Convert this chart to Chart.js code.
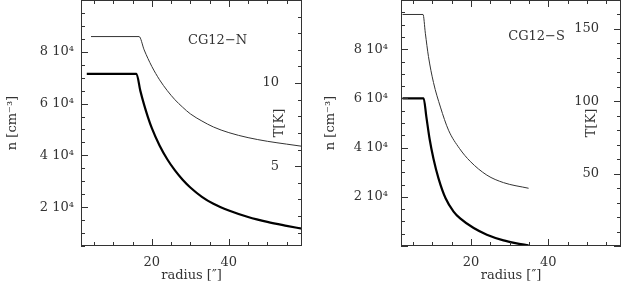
<!DOCTYPE html>
<html>
<head>
<meta charset="utf-8">
<script src="https://cdn.jsdelivr.net/npm/chart.js@4.4.0/dist/chart.umd.min.js"></script>
<style>
  body { margin: 0; background: #fff; }
  #wrap { position: relative; width: 623px; height: 283px; }
  canvas { position: absolute; top: 0; }
  #north { left: 0; }
  #south { left: 311px; }
</style>
</head>
<body>
<div id="wrap">
  <canvas id="north" width="311" height="283"></canvas>
  <canvas id="south" width="312" height="283"></canvas>
</div>
<script>
// Data

// CG12-N : density (thick) and temperature (thin)
const radiusN = [3.1, 16, 17, 18, 19, 20, 22, 24, 26, 28, 30, 33, 36, 40, 45, 50, 55, 59];
const densityN = [71500, 71500, 65000, 59500, 54700, 50500, 43800, 38500, 34200, 30600, 27600, 24000, 21300, 18700, 16200, 14300, 12800, 11700];
const radiusTN = [4.2, 16.7, 18, 20, 22, 24, 26, 28, 30, 33, 36, 40, 45, 50, 55, 59];
const tempN = [12.8, 12.8, 12.0, 11.0, 10.2, 9.55, 9.0, 8.55, 8.15, 7.72, 7.36, 7.02, 6.72, 6.5, 6.33, 6.2];

// CG12-S
const radiusS = [2.3, 7.75, 8.45, 9.3, 10.3, 11.6, 13.4, 15.5, 17.2, 20.7, 24.1, 28.4, 31.5, 34.9];
const densityS = [60000, 60000, 52600, 43500, 35500, 27500, 19500, 14000, 11200, 7300, 4600, 2300, 1200, 300];
const radiusTS = [2.3, 7.6, 8.2, 9.0, 10.3, 12.1, 14.2, 17, 19.8, 24.1, 28.4, 34.9];
const tempS = [160, 160, 147, 131, 113, 96, 80, 67.5, 58.5, 49, 43.8, 39.9];

// tick labels
const radiusLabels = [20, 40];
const densityLabels = [20000, 40000, 60000, 80000];
const tempLabelsN = [5, 10];
const tempLabelsS = [50, 100, 150];

const INK = "#333";
const FAMILY = "'DejaVu Serif', 'Liberation Serif', serif";

// Helpers

function toPoints(xs, ys) {
    return xs.map((x, i) => ({x: x, y: ys[i]}));
}

function eachTick(scale, step, major, fn) {
    let start = Math.ceil(scale.min / step - 1e-9);
    for (let k = start; k * step <= scale.max + 1e-9; k++) {
        let v = k * step;
        let isMajor = Math.abs(v / major - Math.round(v / major)) < 1e-6;
        fn(scale.getPixelForValue(v), isMajor ? 7 : 4);
    }
}

// frame with inward ticks, panel name and T[K] title
const frameTicks = {
    id: "frameTicks",
    afterDraw(chart, args, opts) {
        const {ctx, chartArea: a} = chart;
        const sx = chart.scales.x, sn = chart.scales.y, st = chart.scales.t;

        ctx.save();
        ctx.strokeStyle = INK;
        ctx.lineWidth = 1;
        ctx.strokeRect(a.left + 0.5, a.top + 0.5, a.width - 1, a.height - 1);

        ctx.beginPath();
        eachTick(sx, 5, 20, (px, len) => {
            px = Math.round(px) + 0.5;
            ctx.moveTo(px, a.bottom); ctx.lineTo(px, a.bottom - len);
            ctx.moveTo(px, a.top); ctx.lineTo(px, a.top + len);
        });
        eachTick(sn, 5000, 20000, (py, len) => {
            py = Math.round(py) + 0.5;
            ctx.moveTo(a.left, py); ctx.lineTo(a.left + len, py);
        });
        eachTick(st, opts.tStep, opts.tMajor, (py, len) => {
            py = Math.round(py) + 0.5;
            ctx.moveTo(a.right, py); ctx.lineTo(a.right - len, py);
        });
        ctx.stroke();

        ctx.fillStyle = INK;
        ctx.font = "13px " + FAMILY;
        ctx.textAlign = "center";
        ctx.textBaseline = "middle";
        ctx.fillText(opts.name, a.left + a.width * opts.nameX, a.top + opts.nameY);

        ctx.translate(a.right - opts.tTitle, (a.top + a.bottom) / 2);
        ctx.rotate(-Math.PI / 2);
        ctx.fillText("T[K]", 0, 0);
        ctx.restore();
    }
};

function makePanel(id, s) {
    return new Chart(document.getElementById(id), {
        type: "scatter",
        data: {
            datasets: [
                {data: toPoints(s.rT, s.temp), yAxisID: "t", borderColor: INK, borderWidth: 1},
                {data: toPoints(s.rN, s.dens), yAxisID: "y", borderColor: "#000", borderWidth: 2.2},
            ],
        },
        options: {
            responsive: false,
            animation: false,
            showLine: true,
            elements: {
                point: {radius: 0},
                line: {cubicInterpolationMode: "monotone"},
            },
            layout: {padding: 0},
            plugins: {
                legend: {display: false},
                tooltip: {enabled: false},
                frameTicks: s.frame,
            },
            scales: {
                x: {
                    type: "linear",
                    min: s.xMin, max: s.xMax,
                    grid: {display: false, drawTicks: false},
                    border: {display: false},
                    afterFit: (sc) => { sc.height = 37; sc.paddingLeft = 0; sc.paddingRight = 0; },
                    ticks: {
                        stepSize: 5, autoSkip: false, maxRotation: 0, padding: 9,
                        color: INK, font: {family: FAMILY, size: 13},
                        callback: (v) => radiusLabels.includes(v) ? String(v) : null,
                    },
                    title: {
                        display: true, text: "radius [″]", color: INK,
                        font: {family: FAMILY, size: 13}, padding: {top: 0, bottom: 0},
                    },
                },
                y: {
                    position: "left",
                    min: s.nMin, max: 100000,
                    grid: {display: false, drawTicks: false},
                    border: {display: false},
                    afterFit: (sc) => { sc.width = s.leftWidth; sc.paddingTop = 0; sc.paddingBottom = 0; },
                    ticks: {
                        stepSize: 5000, autoSkip: false, padding: s.nPad,
                        color: INK, font: {family: FAMILY, size: 13},
                        callback: (v) => densityLabels.includes(v) ? (v / 10000) + " 10⁴" : null,
                    },
                    title: {
                        display: true, text: "n [cm⁻³]", color: INK,
                        font: {family: FAMILY, size: 13}, padding: {top: s.nTitlePad, bottom: 0},
                    },
                },
                t: {
                    position: "right",
                    min: s.tMin, max: s.tMax,
                    grid: {display: false, drawTicks: false},
                    border: {display: false},
                    afterFit: (sc) => { sc.width = s.rightWidth; sc.paddingTop = 0; sc.paddingBottom = 0; },
                    ticks: {
                        stepSize: s.frame.tStep, autoSkip: false, mirror: true, padding: s.tPad,
                        color: INK, font: {family: FAMILY, size: 13},
                        callback: (v) => s.tLabels.includes(v) ? String(v) : null,
                    },
                },
            },
        },
        plugins: [frameTicks],
    });
}

makePanel("north", {
    rN: radiusN, dens: densityN, rT: radiusTN, temp: tempN,
    xMin: 1.6, xMax: 59, nMin: 5000, tMin: 0.2, tMax: 15,
    tLabels: tempLabelsN,
    leftWidth: 81, rightWidth: 9, nPad: 7, nTitlePad: 4.7, tPad: -23,
    frame: {name: "CG12−N", nameX: 0.618, nameY: 41, tTitle: 22, tStep: 1, tMajor: 5},
});

makePanel("south", {
    rN: radiusS, dens: densityS, rT: radiusTS, temp: tempS,
    xMin: 1.9, xMax: 58.8, nMin: 0, tMin: 0, tMax: 170,
    tLabels: tempLabelsS,
    leftWidth: 90, rightWidth: 2, nPad: 13, nTitlePad: 12, tPad: -22,
    frame: {name: "CG12−S", nameX: 0.616, nameY: 37, tTitle: 29, tStep: 10, tMajor: 50},
});
</script>
</body>
</html>
